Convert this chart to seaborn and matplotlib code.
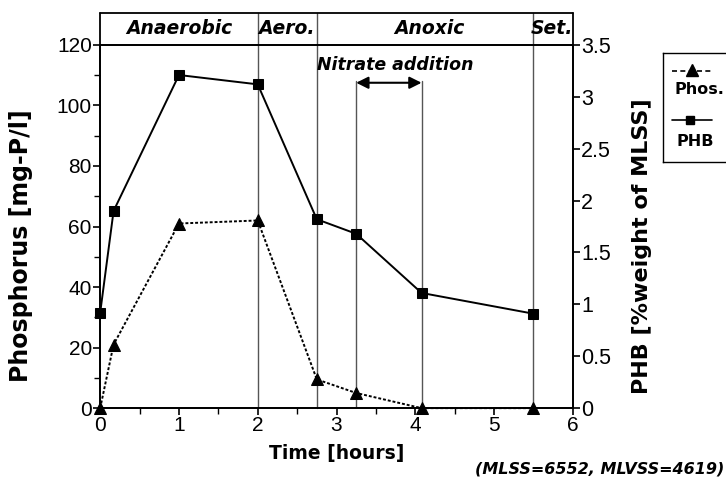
import matplotlib
matplotlib.use("Agg")
import matplotlib.pyplot as plt
import seaborn as sns
import pandas as pd
from matplotlib.ticker import MultipleLocator, FuncFormatter
from matplotlib.lines import Line2D

sns.set_theme(style="white")
plt.rcParams['font.family'] = ['Liberation Sans', 'DejaVu Sans']
plt.rcParams['text.color'] = 'black'
plt.rcParams['axes.labelcolor'] = 'black'
plt.rcParams['xtick.color'] = 'black'
plt.rcParams['ytick.color'] = 'black'

WIDE = ['DejaVu Sans']

# ---- data ----
time_h = [0, 0.17, 1, 2, 2.75, 3.25, 4.08, 5.5]
phos = [0, 21, 61, 62, 9.5, 5, 0, 0]
phb = [0.92, 1.9, 3.21, 3.12, 1.82, 1.68, 1.11, 0.91]
phase_bounds = [2, 2.75, 5.5]
nitrate_bounds = [3.25, 4.08]
phase_labels = ["Anaerobic", "Aero.", "Anoxic", "Set."]
phase_label_x = [1.0, 2.37, 4.18, 5.73]
left_ticks = [0, 20, 40, 60, 80, 100, 120]
right_ticks = [0, 0.5, 1, 1.5, 2, 2.5, 3, 3.5]
x_ticks = [0, 1, 2, 3, 4, 5, 6]

df = pd.DataFrame({"time": time_h, "phos": phos, "phb": phb})

fig = plt.figure(figsize=(7.26, 4.83), dpi=100)
ax = fig.add_axes([0.138, 0.155, 0.651, 0.752])
ax2 = ax.twinx()

sns.lineplot(data=df, x="time", y="phos", ax=ax, color="black", marker="^",
             markersize=8, linestyle=(0, (1.5, 1)), linewidth=1.4,
             markeredgecolor="black", clip_on=False, zorder=5)
sns.lineplot(data=df, x="time", y="phb", ax=ax2, color="black", marker="s",
             markersize=6.5, linewidth=1.4, markeredgecolor="black",
             clip_on=False, zorder=5)

ax.set_xlim(0, 6)
ax.set_ylim(0, 120)
ax2.set_ylim(0, 3.5)
ax.set_xticks(x_ticks)
ax.set_yticks(left_ticks)
ax2.set_yticks(right_ticks)
ax.xaxis.set_minor_locator(MultipleLocator(0.5))
ax.yaxis.set_minor_locator(MultipleLocator(10))
ax2.yaxis.set_major_formatter(FuncFormatter(lambda v, p: f"{v:g}"))

for a in (ax, ax2):
    for s in a.spines.values():
        s.set_color("black")
        s.set_linewidth(1.3)
ax.tick_params(axis="both", which="major", direction="out", length=5, width=1.2,
               labelsize=15, pad=1, colors="black", left=True, bottom=True)
ax.tick_params(axis="both", which="minor", direction="out", length=4, width=1.0,
               left=True, bottom=True)
ax2.tick_params(axis="y", which="major", direction="out", length=5, width=1.2,
                labelsize=15.5, pad=1, colors="black", right=True)

ax.set_xlabel("Time [hours]", fontsize=13.5, fontweight="bold", family=WIDE,
              labelpad=6, color="black")
ax.set_ylabel("Phosphorus [mg-P/l]", fontsize=17, fontweight="bold", family=WIDE,
              color="black")
ax2.set_ylabel("PHB [%weight of MLSS]", fontsize=16, fontweight="bold", family=WIDE,
               color="black")
ax.yaxis.set_label_coords(-0.142, 0.446)
ax2.yaxis.set_label_coords(1.125, 0.446)

# phase boundaries
xt = ax.get_xaxis_transform()
htop = 1.088
for xb in phase_bounds:
    ax.plot([xb, xb], [0, htop], transform=xt, color="#555555", lw=1.0,
            clip_on=False, zorder=1)
for xb in nitrate_bounds:
    ax.plot([xb, xb], [0, 108], color="#555555", lw=1.0, zorder=1)

# header box
ax.plot([0, 1], [htop, htop], transform=ax.transAxes, color="black", lw=1.3, clip_on=False)
ax.plot([0, 0], [1, htop], transform=ax.transAxes, color="black", lw=1.3, clip_on=False)
ax.plot([1, 1], [1, htop], transform=ax.transAxes, color="black", lw=1.3, clip_on=False)
for lab, lx in zip(phase_labels, phase_label_x):
    ax.text(lx, (1 + htop) / 2, lab, transform=xt, ha="center", va="center",
            fontsize=13.5, fontweight="bold", style="italic", family=WIDE,
            clip_on=False)

# nitrate addition
ax.text(3.74, 113.5, "Nitrate addition", ha="center", va="center", fontsize=12.5,
        fontweight="bold", style="italic", family=WIDE)
ax.annotate("", xy=(3.25, 107.5), xytext=(4.08, 107.5),
            arrowprops=dict(arrowstyle="<|-|>", color="black", lw=1.5,
                            mutation_scale=18, shrinkA=0, shrinkB=0))

# legend box (manual, handle above label); coordinates in px from box corner,
# box runs past the right edge of the figure as in the reference
lax = fig.add_axes([663 / 726, 1 - 162 / 483, 0.14, 109 / 483])
lax.set_xlim(0, 0.14 * 726)
lax.set_ylim(109, 0)
lax.set_xticks([])
lax.set_yticks([])
for s in lax.spines.values():
    s.set_color("black")
    s.set_linewidth(1.0)
lax.set_facecolor("white")
lax.add_line(Line2D([9, 49], [18, 18], color="black", lw=1.2, linestyle=(0, (3, 2))))
lax.add_line(Line2D([29], [16.5], color="black", marker="^", markersize=8))
lax.text(11, 37, "Phos.", fontsize=11.5, fontweight="bold", family=WIDE,
         va="center", ha="left")
lax.add_line(Line2D([9, 49], [67, 67], color="black", lw=1.2))
lax.add_line(Line2D([27], [67], color="black", marker="s", markersize=5.5))
lax.text(13, 89, "PHB", fontsize=11.5, fontweight="bold", family=WIDE,
         va="center", ha="left")

fig.text(0.998, 0.03, "(MLSS=6552, MLVSS=4619)", ha="right", va="center",
         fontsize=11.5, fontweight="bold", style="italic", family=WIDE)

fig.savefig("out.png", dpi=100, facecolor="white")
